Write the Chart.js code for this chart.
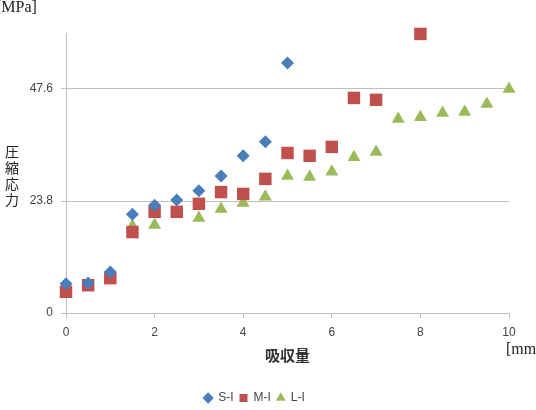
<!DOCTYPE html>
<html>
<head>
<meta charset="utf-8">
<script src="https://cdn.jsdelivr.net/npm/chart.js@4/dist/chart.umd.min.js"></script>
<style>
  html, body { margin: 0; padding: 0; background: #fff; }
  #wrap { position: relative; width: 536px; height: 410px; overflow: hidden; }
</style>
</head>
<body>
<div id="wrap"><canvas id="chart" width="536" height="410"></canvas></div>
<script>
// x positions (吸収量 mm)
const sX = [0, 0.5, 1, 1.5, 2, 2.5, 3, 3.5, 4, 4.5, 5];
const mX = [0, 0.5, 1, 1.5, 2, 2.5, 3, 3.5, 4, 4.5, 5, 5.5, 6, 6.5, 7, 8];
const lX = [0, 0.5, 1, 1.5, 2, 2.5, 3, 3.5, 4, 4.5, 5, 5.5, 6, 6.5, 7, 7.5, 8, 8.5, 9, 9.5, 10];

// 圧縮応力 MPa
const sI = [6.2, 6.4, 8.7, 21.0, 22.9, 24.0, 26.0, 29.1, 33.4, 36.4, 53.1];
const mI = [4.5, 5.9, 7.4, 17.2, 21.5, 21.5, 23.2, 25.7, 25.3, 28.5, 34.0, 33.4, 35.3, 45.7, 45.3, 59.3];
const lI = [4.2, 5.7, 7.4, 18.5, 18.7, 21.0, 20.2, 22.1, 23.4, 24.7, 29.1, 28.9, 30.0, 33.1, 34.2, 41.2, 41.6, 42.5, 42.7, 44.4, 47.6];

const xTicks = [0, 2, 4, 6, 8, 10];
const yTicks = [0, 23.8, 47.6];
const yMax = 59.5;

const toPoints = (xs, ys) => xs.map((x, i) => ({ x: x, y: ys[i] }));

const gridColor = '#BFBFBF';

// axis unit labels and vertical y title
const extraText = {
  id: 'extraText',
  afterDraw(chart) {
    const ctx = chart.ctx;
    ctx.save();
    ctx.fillStyle = '#222';
    ctx.font = '16px "Liberation Serif"';
    ctx.textBaseline = 'middle';
    ctx.textAlign = 'left';
    ctx.fillText('[MPa]', -4, 8);
    ctx.fillText('[mm]', 506, 350);

    ctx.font = '14px "Noto Sans CJK JP"';
    ctx.textAlign = 'center';
    const chars = ['圧', '縮', '応', '力'];
    chars.forEach((c, i) => ctx.fillText(c, 12, 152 + i * 16));
    ctx.restore();
  }
};

new Chart(document.getElementById('chart'), {
  type: 'scatter',
  data: {
    datasets: [
      {
        label: 'S-I',
        data: toPoints(sX, sI),
        pointStyle: 'rectRot',
        pointRadius: 6.5,
        pointHoverRadius: 6.5,
        backgroundColor: '#4A7EBB',
        borderColor: '#4A7EBB',
        pointBorderWidth: 0,
        clip: false
      },
      {
        label: 'M-I',
        data: toPoints(mX, mI),
        pointStyle: 'rect',
        pointRadius: 8.8,
        pointHoverRadius: 8.8,
        backgroundColor: '#C0504D',
        borderColor: '#C0504D',
        pointBorderWidth: 0,
        clip: false
      },
      {
        label: 'L-I',
        data: toPoints(lX, lI),
        pointStyle: 'triangle',
        pointRadius: 7.5,
        pointHoverRadius: 7.5,
        backgroundColor: '#9BBB59',
        borderColor: '#9BBB59',
        pointBorderWidth: 0,
        clip: false
      }
    ]
  },
  options: {
    responsive: false,
    animation: false,
    layout: { padding: { top: 33, right: 27, bottom: -4, left: 0 } },
    plugins: {
      tooltip: { enabled: false },
      legend: {
        position: 'bottom',
        labels: {
          usePointStyle: true,
          boxWidth: 8,
          boxHeight: 8,
          padding: 6,
          color: '#444',
          font: { family: '"Liberation Sans"', size: 12 }
        }
      }
    },
    scales: {
      x: {
        type: 'linear',
        min: 0,
        max: 10,
        afterBuildTicks: s => { s.ticks = xTicks.map(v => ({ value: v })); },
        afterFit: s => { s.height = 73; },
        ticks: {
          padding: 7,
          color: '#444',
          font: { family: '"Liberation Sans"', size: 12 }
        },
        grid: { drawOnChartArea: false, drawTicks: true, tickLength: 5, color: gridColor },
        border: { color: gridColor, width: 1 },
        title: {
          display: true,
          text: '吸収量',
          color: '#333',
          font: { family: '"Noto Sans CJK JP"', size: 15, weight: 'bold' },
          padding: { top: 0, bottom: 22 }
        }
      },
      y: {
        type: 'linear',
        min: 0,
        max: yMax,
        afterBuildTicks: s => { s.ticks = yTicks.map(v => ({ value: v })); },
        afterFit: s => { s.width = 66; },
        ticks: {
          padding: 8,
          color: '#444',
          font: { family: '"Liberation Sans"', size: 12 }
        },
        grid: { color: gridColor, tickLength: 5 },
        border: { color: gridColor, width: 1 }
      }
    }
  },
  plugins: [extraText]
});
</script>
</body>
</html>
